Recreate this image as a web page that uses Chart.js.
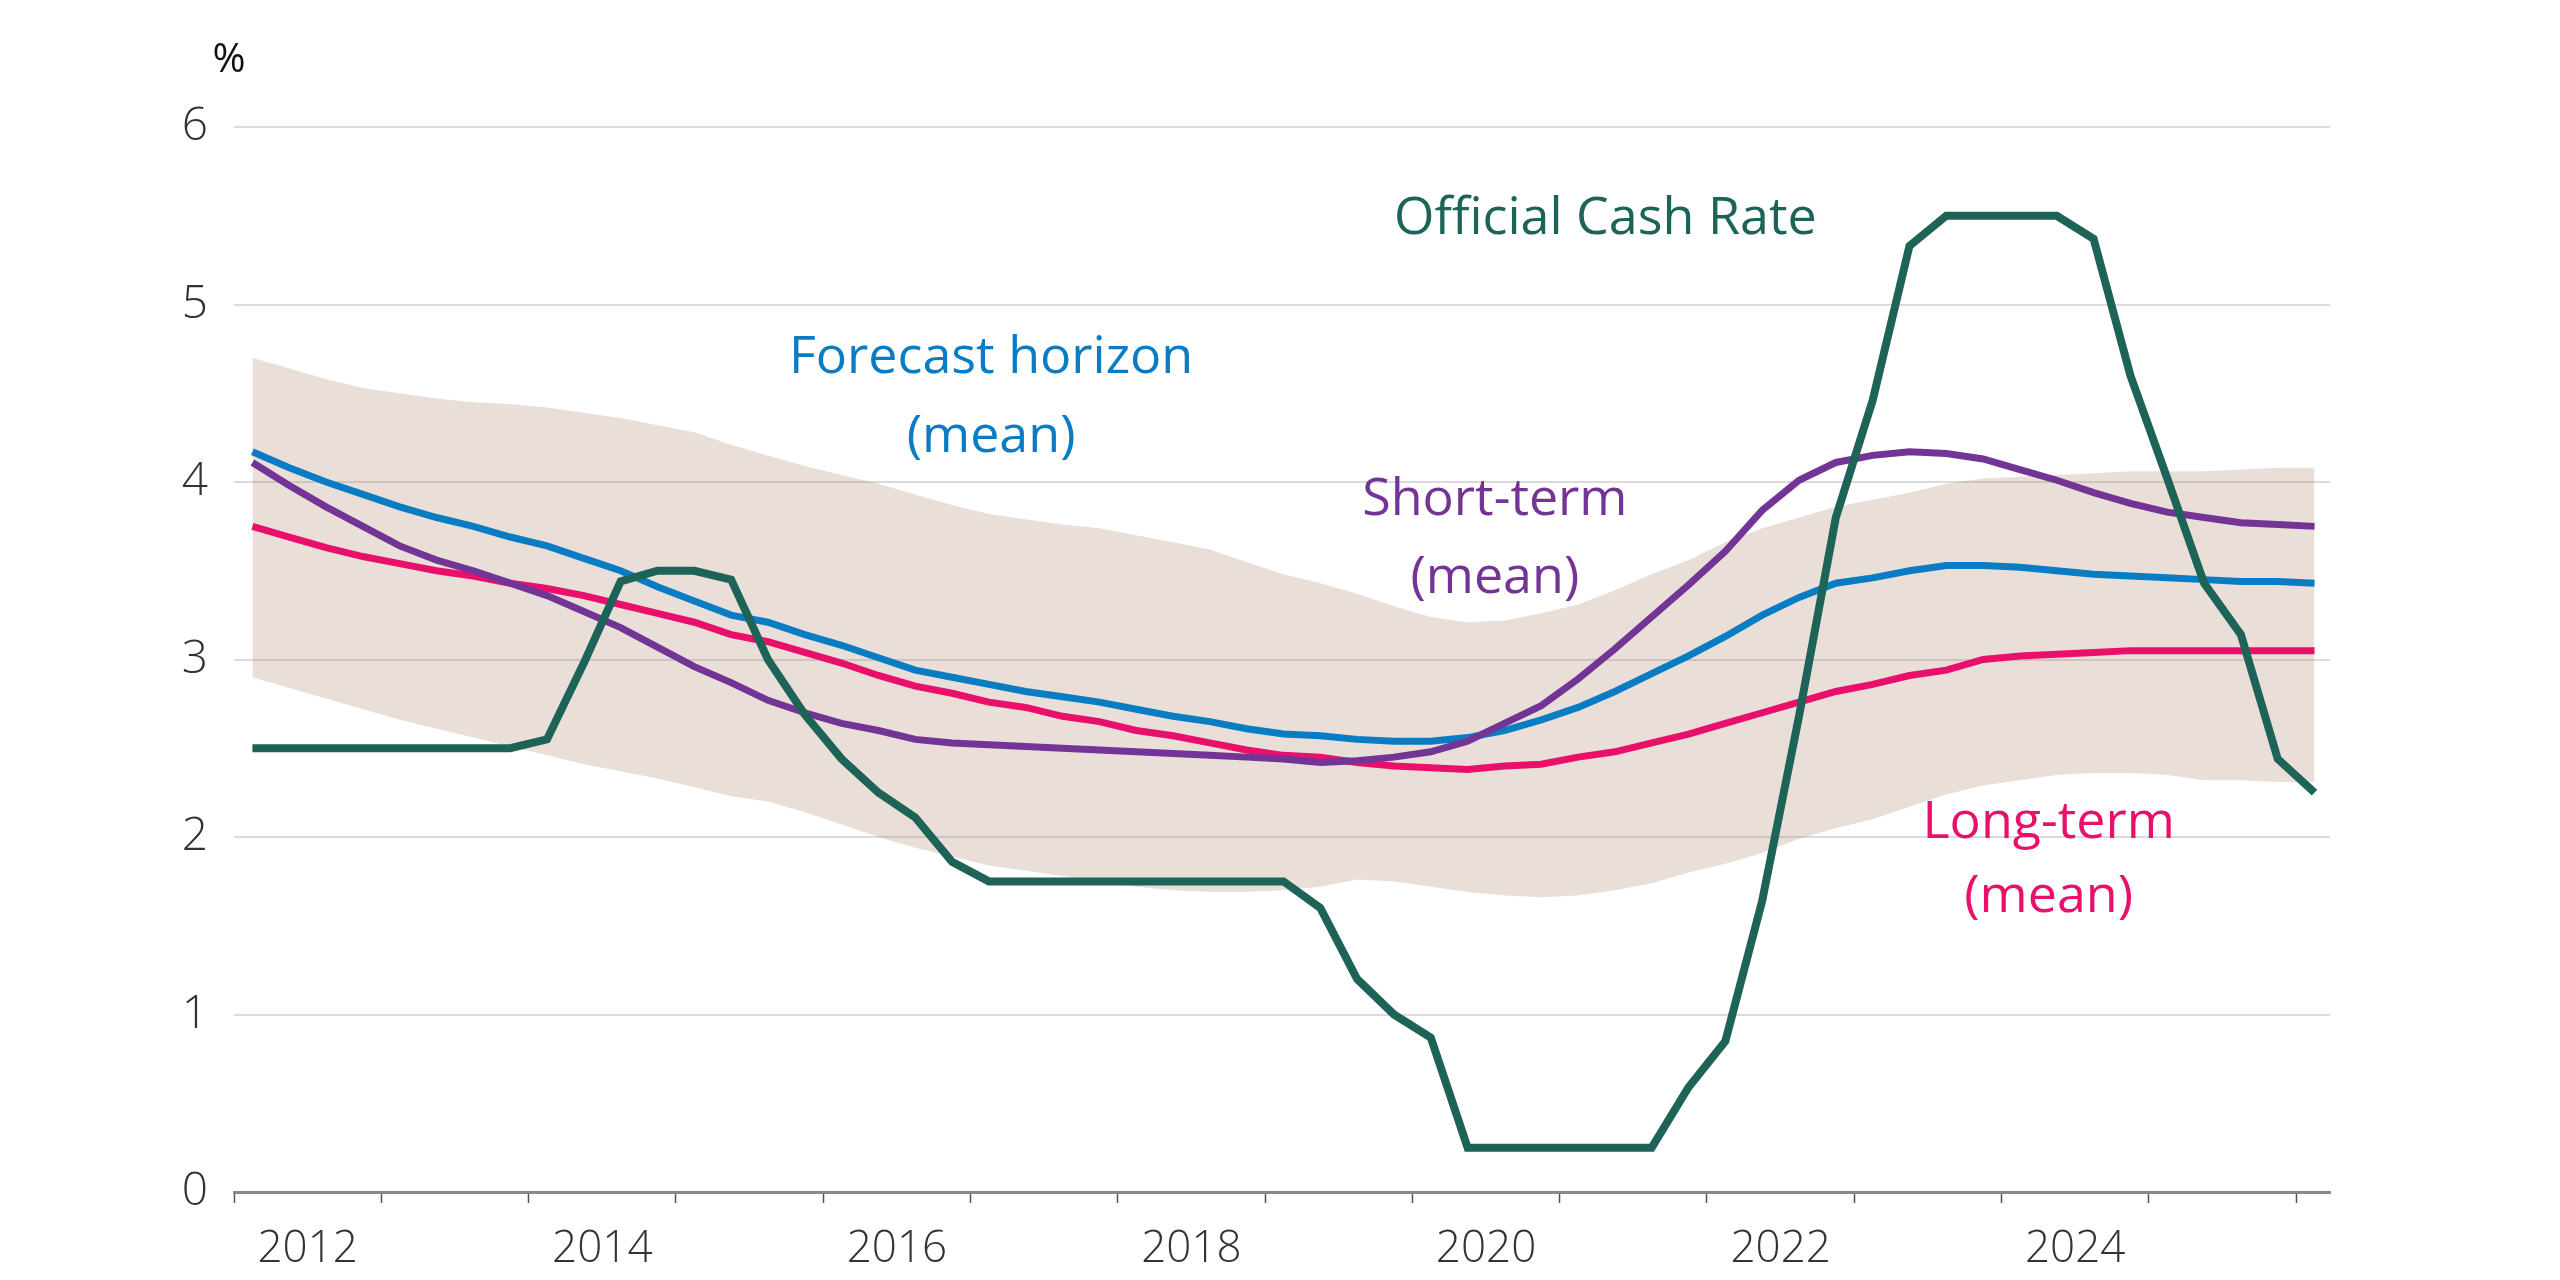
<!DOCTYPE html>
<html>
<head>
<meta charset="utf-8">
<title>OCR and neutral rate expectations</title>
<script src="https://cdn.jsdelivr.net/npm/chart.js@4.4.1/dist/chart.umd.min.js"></script>
<style>
  html, body { margin: 0; padding: 0; background: #fff; }
  #wrap { width: 2560px; height: 1280px; }
</style>
</head>
<body>
<div id="wrap"><canvas id="chart" width="2560" height="1280"></canvas></div>
<script>
// quarterly survey dates, 2012 Q1 – 2026 Q1 (plotted mid-quarter)
const FIRST_YEAR = 2012;
const N_QUARTERS = 57;
const quarterDates = [];
for (let i = 0; i < N_QUARTERS; i++) {
  quarterDates.push(FIRST_YEAR + Math.floor(i / 4) + (i % 4) * 0.25 + 0.125);
}

// Official Cash Rate (quarterly average), %
const ocr = [
  2.5, 2.5, 2.5, 2.5, 2.5, 2.5, 2.5, 2.5,
  2.55, 2.98, 3.44, 3.5, 3.5, 3.45, 3.0, 2.69,
  2.44, 2.25, 2.11, 1.86, 1.75, 1.75, 1.75, 1.75,
  1.75, 1.75, 1.75, 1.75, 1.75, 1.6, 1.2, 1.0,
  0.87, 0.25, 0.25, 0.25, 0.25, 0.25, 0.25, 0.59,
  0.85, 1.64, 2.68, 3.8, 4.46, 5.33, 5.5, 5.5,
  5.5, 5.5, 5.37, 4.6, 4.02, 3.43, 3.14, 2.44,
  2.25,
];

// Forecast horizon (mean)
const forecastMean = [
  4.17, 4.08, 4.00, 3.93, 3.86, 3.80, 3.75, 3.69,
  3.64, 3.57, 3.50, 3.41, 3.33, 3.25, 3.21, 3.14,
  3.08, 3.01, 2.94, 2.90, 2.86, 2.82, 2.79, 2.76,
  2.72, 2.68, 2.65, 2.61, 2.58, 2.57, 2.55, 2.54,
  2.54, 2.56, 2.60, 2.66, 2.73, 2.82, 2.92, 3.02,
  3.13, 3.25, 3.35, 3.43, 3.46, 3.50, 3.53, 3.53,
  3.52, 3.50, 3.48, 3.47, 3.46, 3.45, 3.44, 3.44,
  3.43,
];

// Short-term (mean)
const shortMean = [
  4.11, 3.98, 3.86, 3.75, 3.64, 3.56, 3.50, 3.43,
  3.36, 3.27, 3.18, 3.07, 2.96, 2.87, 2.77, 2.70,
  2.64, 2.60, 2.55, 2.53, 2.52, 2.51, 2.50, 2.49,
  2.48, 2.47, 2.46, 2.45, 2.44, 2.42, 2.43, 2.45,
  2.48, 2.54, 2.64, 2.74, 2.89, 3.06, 3.24, 3.42,
  3.61, 3.84, 4.01, 4.11, 4.15, 4.17, 4.16, 4.13,
  4.07, 4.01, 3.94, 3.88, 3.83, 3.80, 3.77, 3.76,
  3.75,
];

// Long-term (mean)
const longMean = [
  3.75, 3.69, 3.63, 3.58, 3.54, 3.50, 3.47, 3.43,
  3.40, 3.36, 3.31, 3.26, 3.21, 3.14, 3.10, 3.04,
  2.98, 2.91, 2.85, 2.81, 2.76, 2.73, 2.68, 2.65,
  2.60, 2.57, 2.53, 2.49, 2.46, 2.45, 2.42, 2.40,
  2.39, 2.38, 2.40, 2.41, 2.45, 2.48, 2.53, 2.58,
  2.64, 2.70, 2.76, 2.82, 2.86, 2.91, 2.94, 3.00,
  3.02, 3.03, 3.04, 3.05, 3.05, 3.05, 3.05, 3.05,
  3.05,
];

// range of estimates (shaded band)
const rangeLow = [
  2.90, 2.84, 2.78, 2.72, 2.66, 2.61, 2.56, 2.51,
  2.46, 2.41, 2.37, 2.33, 2.28, 2.23, 2.20, 2.14,
  2.07, 2.00, 1.94, 1.89, 1.84, 1.81, 1.78, 1.75,
  1.72, 1.70, 1.69, 1.69, 1.70, 1.72, 1.76, 1.75,
  1.72, 1.69, 1.67, 1.66, 1.67, 1.70, 1.74, 1.80,
  1.85, 1.91, 1.99, 2.05, 2.10, 2.17, 2.24, 2.29,
  2.32, 2.35, 2.36, 2.36, 2.35, 2.32, 2.32, 2.31,
  2.31,
];
const rangeHigh = [
  4.70, 4.64, 4.58, 4.53, 4.50, 4.47, 4.45, 4.44,
  4.42, 4.39, 4.36, 4.32, 4.28, 4.21, 4.15, 4.09,
  4.04, 3.99, 3.93, 3.87, 3.82, 3.79, 3.76, 3.74,
  3.70, 3.66, 3.62, 3.55, 3.48, 3.43, 3.37, 3.30,
  3.24, 3.21, 3.22, 3.26, 3.31, 3.39, 3.48, 3.56,
  3.66, 3.74, 3.80, 3.86, 3.90, 3.94, 3.99, 4.02,
  4.03, 4.04, 4.05, 4.06, 4.06, 4.06, 4.07, 4.08,
  4.08,
];

const yearTicks = [2012, 2013, 2014, 2015, 2016, 2017, 2018, 2019, 2020, 2021, 2022, 2023, 2024, 2025, 2026];
const yearLabels = [2012, 2014, 2016, 2018, 2020, 2022, 2024];

const COLORS = {
  ocr: '#1d6358',
  forecast: '#0a7cc4',
  short: '#733595',
  long: '#e8106a',
  band: 'rgba(166, 120, 90, 0.24)',
  grid: 'rgba(0, 0, 0, 0.14)',
  axis: '#8a8a8a',
  text: '#333333',
};

const FONT = "'Open Sans', 'Noto Sans', sans-serif";

const toPoints = (vals) => vals.map((v, i) => ({ x: quarterDates[i], y: v }));

// in-chart series labels, placed in data coordinates
const seriesLabels = [
  { text: 'Official Cash Rate', x: 2021.31, y: 5.48, color: COLORS.ocr },
  { text: 'Forecast horizon', x: 2017.14, y: 4.70, color: COLORS.forecast },
  { text: '(mean)', x: 2017.14, y: 4.25, color: COLORS.forecast },
  { text: 'Short-term', x: 2020.56, y: 3.90, color: COLORS.short },
  { text: '(mean)', x: 2020.56, y: 3.46, color: COLORS.short },
  { text: 'Long-term', x: 2024.32, y: 2.08, color: COLORS.long },
  { text: '(mean)', x: 2024.32, y: 1.66, color: COLORS.long },
];

const labelPlugin = {
  id: 'seriesLabels',
  afterDatasetsDraw(chart) {
    const { ctx, scales } = chart;
    ctx.save();
    ctx.font = `52px ${FONT}`;
    ctx.textAlign = 'center';
    ctx.textBaseline = 'middle';
    seriesLabels.forEach((l) => {
      ctx.fillStyle = l.color;
      ctx.fillText(l.text, scales.x.getPixelForValue(l.x), scales.y.getPixelForValue(l.y));
    });
    // unit label above the y axis
    ctx.fillStyle = '#111';
    ctx.font = `40px ${FONT}`;
    ctx.fillText('%', chart.chartArea.left - 5, chart.chartArea.top - 66);
    ctx.restore();
  },
};

const lineStyle = (color, width) => ({
  borderColor: color,
  backgroundColor: color,
  borderWidth: width,
  pointRadius: 0,
  tension: 0,
  fill: false,
  borderJoinStyle: 'miter',
});

new Chart(document.getElementById('chart'), {
  type: 'line',
  data: {
    datasets: [
      { label: 'Range low', data: toPoints(rangeLow), borderWidth: 0, pointRadius: 0, fill: false, order: 5 },
      { label: 'Range high', data: toPoints(rangeHigh), borderWidth: 0, pointRadius: 0, fill: '-1', backgroundColor: COLORS.band, order: 4 },
      { label: 'Long-term (mean)', data: toPoints(longMean), ...lineStyle(COLORS.long, 7), order: 3 },
      { label: 'Forecast horizon (mean)', data: toPoints(forecastMean), ...lineStyle(COLORS.forecast, 7), order: 2 },
      { label: 'Short-term (mean)', data: toPoints(shortMean), ...lineStyle(COLORS.short, 7), order: 1 },
      { label: 'Official Cash Rate', data: toPoints(ocr), ...lineStyle(COLORS.ocr, 8), order: 0 },
    ],
  },
  options: {
    responsive: false,
    animation: false,
    layout: { padding: { top: 127, right: 230, left: 0, bottom: 0 } },
    plugins: {
      legend: { display: false },
      tooltip: { enabled: false },
      filler: { drawTime: 'beforeDatasetsDraw' },
    },
    scales: {
      x: {
        type: 'linear',
        min: 2012,
        max: 2026.23,
        afterBuildTicks: (scale) => {
          scale.ticks = yearTicks.map((v) => ({ value: v }));
        },
        afterFit: (scale) => {
          scale.height = 88;
        },
        ticks: {
          autoSkip: false,
          maxRotation: 0,
          labelOffset: 73.7,
          padding: 20,
          color: COLORS.text,
          font: { family: FONT, size: 44, weight: 300 },
          callback: (v) => (yearLabels.includes(v) ? String(v) : ''),
        },
        grid: {
          drawOnChartArea: false,
          drawTicks: true,
          tickLength: 11,
          tickColor: '#555',
          tickWidth: 1.5,
        },
        border: { display: true, color: COLORS.axis, width: 3 },
      },
      y: {
        min: 0,
        max: 6,
        afterFit: (scale) => {
          scale.width = 234;
        },
        ticks: {
          stepSize: 1,
          padding: 26,
          color: COLORS.text,
          font: { family: FONT, size: 46, weight: 300 },
        },
        grid: { color: COLORS.grid, lineWidth: 2, drawTicks: false },
        border: { display: false },
      },
    },
  },
  plugins: [labelPlugin],
});
</script>
</body>
</html>
